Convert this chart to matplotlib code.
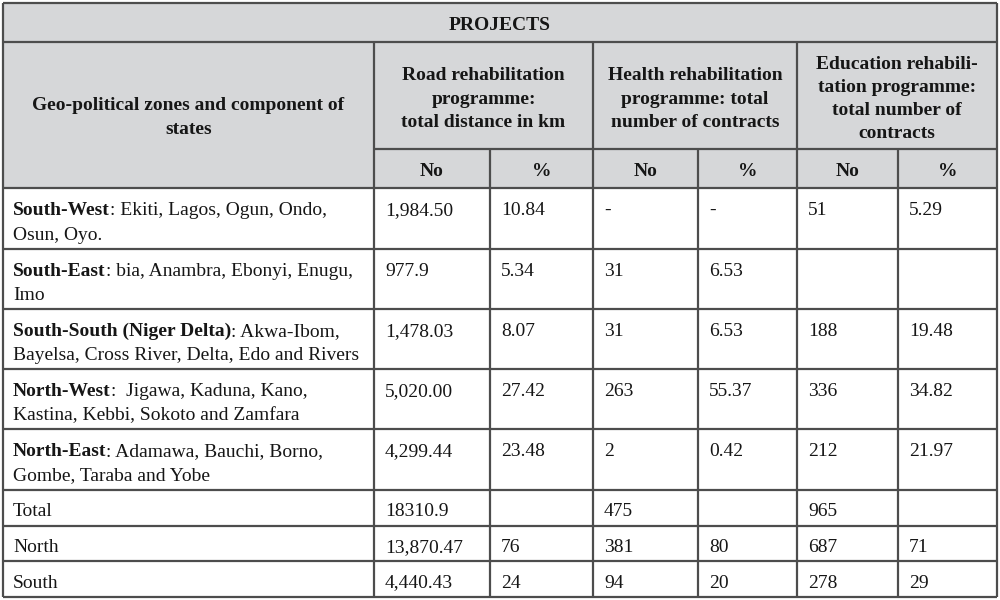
import matplotlib
matplotlib.use('Agg')
import matplotlib.pyplot as plt
from matplotlib.patches import Rectangle

# Table contents
zones = ['South-West', 'South-East', 'South-South (Niger Delta)', 'North-West', 'North-East']
states_line1 = [': Ekiti, Lagos, Ogun, Ondo,', ': bia, Anambra, Ebonyi, Enugu,', ': Akwa-Ibom,',
                ':  Jigawa, Kaduna, Kano,', ': Adamawa, Bauchi, Borno,']
states_line2 = ['Osun, Oyo.', 'Imo', 'Bayelsa, Cross River, Delta, Edo and Rivers',
                'Kastina, Kebbi, Sokoto and Zamfara', 'Gombe, Taraba and Yobe']
summary_rows = ['Total', 'North', 'South']

road_km = ['1,984.50', '977.9', '1,478.03', '5,020.00', '4,299.44', '18310.9', '13,870.47', '4,440.43']
road_pct = ['10.84', '5.34', '8.07', '27.42', '23.48', '', '76', '24']
health_no = ['-', '31', '31', '263', '2', '475', '381', '94']
health_pct = ['-', '6.53', '6.53', '55.37', '0.42', '', '80', '20']
edu_no = ['51', '', '188', '336', '212', '965', '687', '278']
edu_pct = ['5.29', '', '19.48', '34.82', '21.97', '', '71', '29']

title = 'PROJECTS'
first_head = ['Geo-political zones and component of', 'states']
group_heads = [['Road rehabilitation', 'programme:', 'total distance in km'],
               ['Health rehabilitation', 'programme: total', 'number of contracts'],
               ['Education rehabili-', 'tation programme:', 'total number of', 'contracts']]
sub_heads = ['No', '%']

# grid geometry (pixels)
col_x = [3, 374, 490, 593, 698, 797, 898, 997]
row_y = [188, 249, 309, 369, 429, 490, 526, 561, 597]
head_y = [3, 42, 149, 188]

FONT = ['Liberation Serif']
FS = 14
LINE = '#4d4d4d'
HEAD_BG = '#d6d7d9'
LS = 23.3  # header line spacing

fig = plt.figure(figsize=(10, 6), dpi=100)
ax = fig.add_axes([0, 0, 1, 1])
ax.set_xlim(0, 1000)
ax.set_ylim(600, 0)
ax.axis('off')

# header background
ax.add_patch(Rectangle((col_x[0], head_y[0]), col_x[-1] - col_x[0], head_y[-1] - head_y[0],
                       facecolor=HEAD_BG, edgecolor='none'))

lw = 1.6
ax.hlines([head_y[0], head_y[1], head_y[3]] + row_y[1:], col_x[0], col_x[-1], color=LINE, lw=lw)
ax.hlines(head_y[2], col_x[1], col_x[-1], color=LINE, lw=lw)
ax.vlines([col_x[0], col_x[-1]], head_y[0], row_y[-1], color=LINE, lw=lw)
ax.vlines([col_x[1], col_x[3], col_x[5]], head_y[1], row_y[-1], color=LINE, lw=lw)
ax.vlines([col_x[2], col_x[4], col_x[6]], head_y[2], row_y[-1], color=LINE, lw=lw)

txt = dict(family=FONT, fontsize=FS, color='#161616', va='baseline')

# headers
ax.text(500, 30.5, title, ha='center', weight='bold', **txt)
for i, s in enumerate(first_head):
    ax.text((col_x[0] + col_x[1]) / 2, 110.5 + LS * i, s, ha='center', weight='bold', **txt)
for g, lines in enumerate(group_heads):
    cx = (col_x[1 + 2 * g] + col_x[3 + 2 * g]) / 2
    n = len(lines)
    base = 103.5 - LS * (n - 1) / 2
    for i, s in enumerate(lines):
        ax.text(cx, base + LS * i, s, ha='center', weight='bold', **txt)
for c in range(1, 7):
    ax.text((col_x[c] + col_x[c + 1]) / 2, 176.5, sub_heads[(c - 1) % 2],
            ha='center', weight='bold', **txt)

# body
renderer = fig.canvas.get_renderer()
pad = 10
for r in range(5):
    y0 = row_y[r] + 27
    b = ax.text(col_x[0] + pad, y0, zones[r], ha='left', weight='bold', **txt)
    bb = b.get_window_extent(renderer)
    ax.text(col_x[0] + pad + bb.width, y0, states_line1[r], ha='left', **txt)
    ax.text(col_x[0] + pad, y0 + 24.5, states_line2[r], ha='left', **txt)
for k, s in enumerate(summary_rows):
    ax.text(col_x[0] + pad, row_y[5 + k] + 26.5, s, ha='left', **txt)

columns = [road_km, road_pct, health_no, health_pct, edu_no, edu_pct]
for c, vals in enumerate(columns):
    for r, v in enumerate(vals):
        y = row_y[r] + (27 if r < 5 else 26.5)
        ax.text(col_x[c + 1] + pad + 1, y, v, ha='left', **txt)

fig.savefig('out.png', dpi=100, facecolor='white')
